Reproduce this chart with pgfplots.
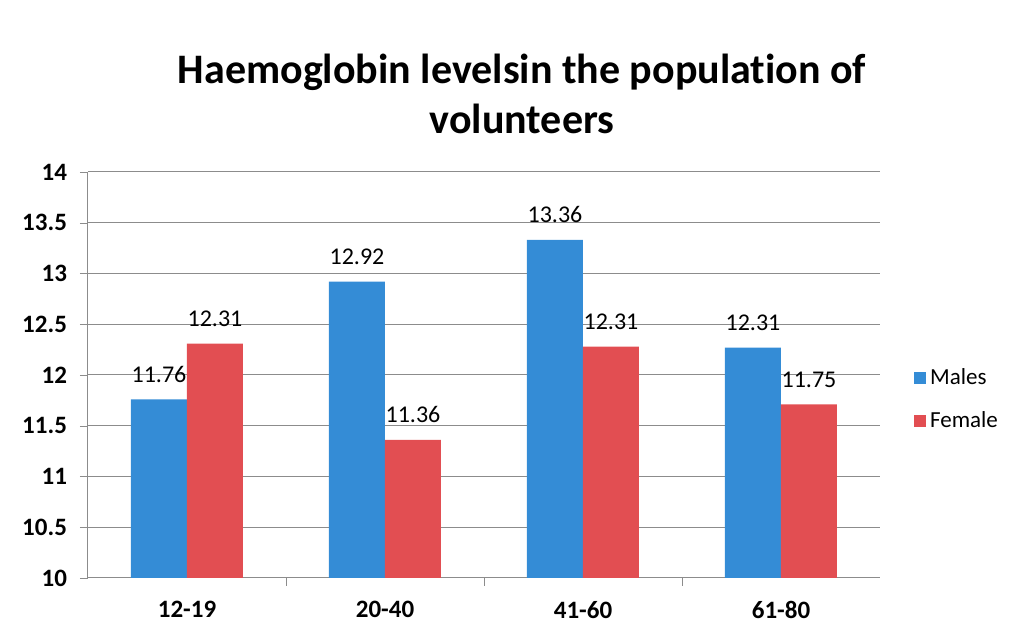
\documentclass[border=0pt]{standalone}
\usepackage{pgfplots}
\pgfplotsset{compat=1.18}
\usepackage{fontspec}
\setmainfont[Ligatures={NoCommon}]{Carlito}
\definecolor{mblue}{RGB}{52,140,214}
\definecolor{fred}{RGB}{226,78,82}
\definecolor{gridg}{RGB}{140,140,140}
\begin{document}
\begin{tikzpicture}
\useasboundingbox (-44pt,-28.5pt) rectangle (465.5pt,289pt);
\begin{axis}[
  at={(0,0)}, anchor=south west,
  scale only axis, width=396pt, height=203pt,
  ybar=0pt, bar width=28pt,
  xmin=-0.5, xmax=3.5, ymin=10, ymax=14,
  ytick={10,10.5,...,14},
  xtick={0,1,2,3},
  xticklabels={12-19,20-40,41-60,61-80},
  minor xtick={0.5,1.5,2.5},
  x tick label style={font=\fontsize{12.5}{14}\selectfont\bfseries, yshift=-4pt},
  y tick label style={font=\fontsize{12.5}{14}\selectfont\bfseries, xshift=-3pt},
  /pgf/number format/assume math mode=true,
  yticklabel style={/pgf/number format/fixed},
  axis lines*=left,
  axis line style={gridg, line width=0.5pt},
  ymajorgrids, major grid style={gridg, line width=0.5pt},
  major y tick style={draw=gridg}, 
  major x tick style={draw=none},
  minor x tick style={draw=gridg},
  tick align=outside, major tick length=4pt, minor tick length=4pt,
  nodes near coords,
  every node near coord/.append style={font=\fontsize{12}{14}\selectfont, color=black, yshift=5pt},
  point meta=explicit symbolic,
  legend style={at={(1.035,0.44)}, anchor=west, draw=none, fill=none,
    font=\fontsize{11.5}{14}\selectfont, row sep=8pt},
  legend cell align=left,
  legend image code/.code={\fill[#1] (0pt,-3pt) rectangle (6pt,3pt);},
]
\addplot[fill=mblue, draw=none] coordinates {(0,11.76)[11.76] (1,12.92)[12.92] (2,13.33)[13.36] (3,12.27)[12.31]};
\addplot[fill=fred, draw=none] coordinates {(0,12.31)[12.31] (1,11.36)[11.36] (2,12.28)[12.31] (3,11.71)[11.75]};
\legend{Males,Female}
\end{axis}
\node[align=center, font=\fontsize{21}{25}\selectfont\bfseries] at (217pt,242pt) {Haemoglobin levelsin the population of\\volunteers};
\end{tikzpicture}
\end{document}
